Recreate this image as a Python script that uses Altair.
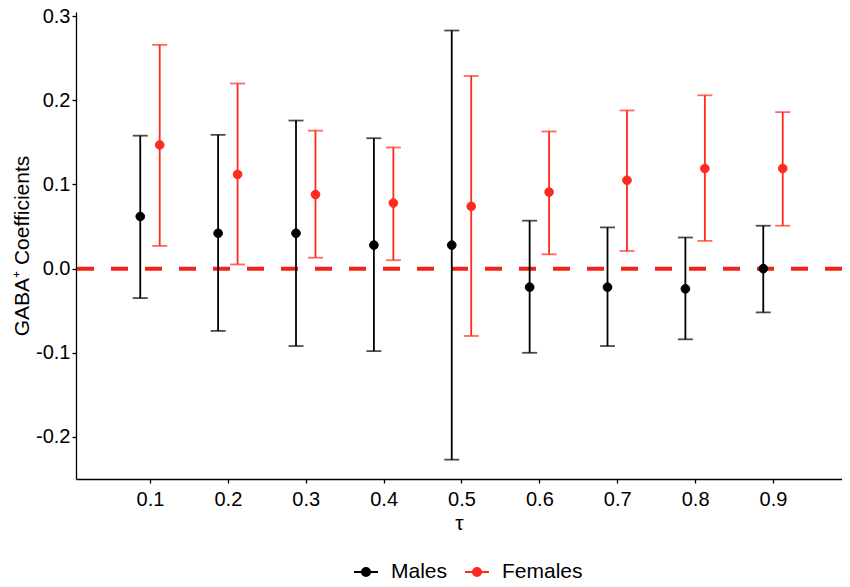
import altair as alt
import pandas as pd

tau = [0.1, 0.2, 0.3, 0.4, 0.5, 0.6, 0.7, 0.8, 0.9]
male_est = [0.062, 0.042, 0.042, 0.028, 0.028, -0.022, -0.022, -0.024, 0.000]
male_lo = [-0.035, -0.074, -0.092, -0.098, -0.227, -0.100, -0.092, -0.084, -0.052]
male_hi = [0.158, 0.159, 0.176, 0.155, 0.283, 0.057, 0.049, 0.037, 0.051]
fem_est = [0.147, 0.112, 0.088, 0.078, 0.074, 0.091, 0.105, 0.119, 0.119]
fem_lo = [0.027, 0.005, 0.013, 0.010, -0.080, 0.017, 0.021, 0.033, 0.051]
fem_hi = [0.266, 0.220, 0.164, 0.144, 0.229, 0.163, 0.188, 0.206, 0.186]
groups = ["Males", "Females"]
colors = ["#000000", "#FF2A1F"]

rows = []
for i, t in enumerate(tau):
    rows.append({"tau": t, "sex": "Males", "est": male_est[i], "lo": male_lo[i], "hi": male_hi[i]})
    rows.append({"tau": t, "sex": "Females", "est": fem_est[i], "lo": fem_lo[i], "hi": fem_hi[i]})
df = pd.DataFrame(rows)

FONT = "Liberation Sans"

xscale = alt.Scale(domain=[0.005, 0.9886], nice=False, zero=False)
yscale = alt.Scale(domain=[-0.25, 0.305], nice=False, zero=False)
cscale = alt.Scale(domain=groups, range=colors)

xenc = alt.X(
    "xpos:Q",
    scale=xscale,
    title="τ",
    axis=alt.Axis(
        values=tau,
        labelExpr="format(datum.value, '.1f')",
        tickSize=4,
        labelPadding=6,
        titlePadding=3,
        titleFontSize=21,
    ),
)
yaxis = alt.Axis(
    values=[-0.2, -0.1, 0.0, 0.1, 0.2, 0.3],
    labelExpr="replace(format(datum.value, '.1f'), '\u2212', '-')",
    tickSize=4,
    labelPadding=2,
    titlePadding=3,
    titleFontSize=21,
)

legend = alt.Legend(
    title=None,
    orient="none",
    legendX=277,
    legendY=547,
    direction="horizontal",
    symbolType="M-1,0L1,0M-0.35,0A0.35,0.35 0 1,1 0.35,0A0.35,0.35 0 1,1 -0.35,0Z",
    symbolSize=576,
    symbolStrokeWidth=1.8,
    symbolOpacity=1,
    labelFontSize=21,
    labelFont=FONT,
    labelColor="black",
    labelOffset=12,
    columnPadding=13,
)

base = alt.Chart(df).transform_calculate(
    xpos="datum.tau + (datum.sex == 'Males' ? -0.0125 : 0.0125)"
)

zero_line = alt.Chart(pd.DataFrame({"z": [0.0]})).mark_rule(
    color="#F2221A", strokeDash=[17, 17], strokeWidth=4
).encode(y=alt.Y("z:Q", scale=yscale, title="GABA⁺ Coefficients", axis=yaxis))

color_enc = alt.Color("sex:N", scale=cscale, legend=legend)

rules = base.mark_rule(strokeWidth=1.8).encode(
    x=xenc, y=alt.Y("lo:Q", scale=yscale), y2="hi:Q", color=color_enc
)
caps_lo = base.mark_tick(orient="horizontal", size=15, thickness=1.8).encode(
    x=xenc, y=alt.Y("lo:Q", scale=yscale), color=color_enc
)
caps_hi = base.mark_tick(orient="horizontal", size=15, thickness=1.8).encode(
    x=xenc, y=alt.Y("hi:Q", scale=yscale), color=color_enc
)
points = base.mark_point(filled=True, size=75, opacity=1, strokeWidth=1).encode(
    x=xenc,
    y=alt.Y("est:Q", scale=yscale),
    fill=alt.Fill("sex:N", scale=cscale, legend=legend),
    stroke=alt.Stroke("sex:N", scale=cscale, legend=legend),
)

chart = alt.layer(zero_line, rules, caps_lo, caps_hi, points).properties(
    width=766,
    height=467,
    autosize=alt.AutoSizeParams(type="none"),
    padding={"left": 68, "top": 4, "right": 0, "bottom": 103},
).configure_axis(
    grid=False,
    domainColor="black",
    domainWidth=1.3,
    tickColor="black",
    tickWidth=1.3,
    labelColor="black",
    labelFontSize=20,
    labelFont=FONT,
    titleFont=FONT,
    titleColor="black",
    titleFontWeight="normal",
).configure_view(stroke=None)

chart.save("out.html", embed_options={"renderer": "svg", "actions": False})
